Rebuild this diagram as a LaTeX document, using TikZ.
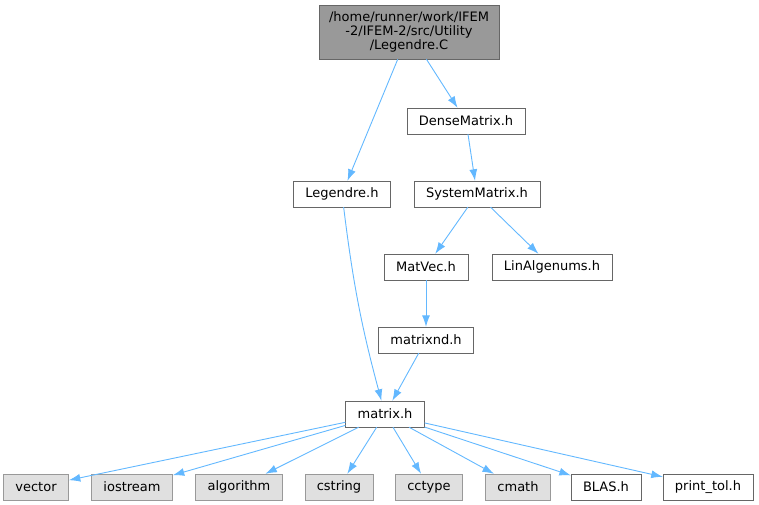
\documentclass[tikz,border=0pt]{standalone}
\usepackage{fontspec}
\setmainfont{DejaVu Sans}
\usetikzlibrary{arrows.meta}
\definecolor{edgeblue}{HTML}{63B8FF}
\definecolor{boxline}{HTML}{666666}
\definecolor{topfill}{HTML}{999999}
\definecolor{sysline}{HTML}{999999}
\definecolor{sysfill}{HTML}{E0E0E0}
\begin{document}
\begin{tikzpicture}[
  x=1pt, y=-1pt,
  every node/.style={draw=boxline, fill=white, rectangle, align=center,
    font=\fontsize{13}{14}\selectfont, inner xsep=12pt, inner ysep=0pt,
    minimum height=26pt},
  sysfile/.style={draw=sysline, fill=sysfill},
  thisfile/.style={fill=topfill, minimum width=180pt, minimum height=54pt, inner xsep=4pt},
  dep/.style={draw=edgeblue, line width=0.9pt, -{Latex[length=11.5pt,width=8pt]}}
]
\useasboundingbox (0,0) rectangle (759,505);

\node[thisfile] (src) at (409,32) {/home/runner/work/IFEM\\-2/IFEM-2/src/Utility\\/Legendre.C};
\node (dense) at (466,121) {DenseMatrix.h};
\node (legh) at (342,194) {Legendre.h};
\node (sysmat) at (477,194) {SystemMatrix.h};
\node (matvec) at (426,267) {MatVec.h};
\node (linalg) at (552,267) {LinAlgenums.h};
\node (matnd) at (426,340) {matrixnd.h};
\node (matrix) at (385,414) {matrix.h};

\node[sysfile] (vector) at (36,487) {vector};
\node[sysfile] (iostream) at (132,487) {iostream};
\node[sysfile] (algorithm) at (239,487) {algorithm};
\node[sysfile] (cstring) at (339,487) {cstring};
\node[sysfile] (cctype) at (429,487) {cctype};
\node[sysfile] (cmath) at (518,487) {cmath};
\node (blas) at (606,487) {BLAS.h};
\node (printtol) at (708,487) {print\_tol.h};

\draw[dep] (src) -- (legh);
\draw[dep] (src) -- (dense);
\draw[dep] (dense) -- (sysmat);
\draw[dep] (legh) to[bend right=4] (matrix);
\draw[dep] (sysmat) -- (matvec);
\draw[dep] (sysmat) -- (linalg);
\draw[dep] (matvec) -- (matnd);
\draw[dep] (matnd) -- (matrix);
\foreach \n in {vector,iostream,algorithm,cstring,cctype,cmath,blas,printtol}
  \draw[dep] (matrix) -- (\n);

\end{tikzpicture}
\end{document}
